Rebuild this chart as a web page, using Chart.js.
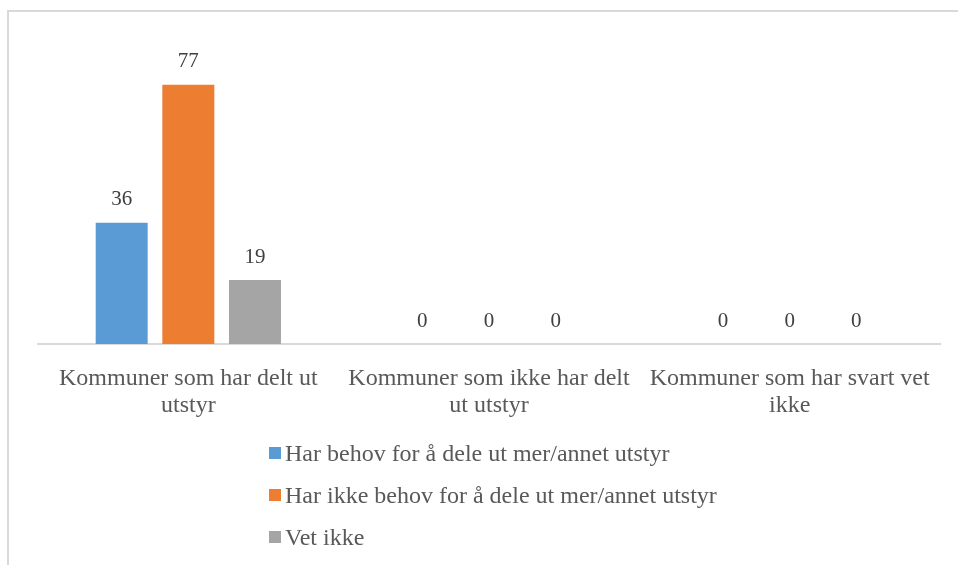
<!DOCTYPE html>
<html>
<head>
<meta charset="utf-8">
<script src="https://cdn.jsdelivr.net/npm/chart.js@4"></script>
<style>
  html, body { margin: 0; padding: 0; background: #fff; }
  #wrap { position: relative; width: 958px; height: 565px; overflow: hidden; }
  #frame { position: absolute; left: 7px; top: 10px; right: -5px; bottom: -5px;
           border-top: 2px solid #d9d9d9; border-left: 2px solid #d9d9d9; }
  #chartBox { position: absolute; left: 0; top: 0; width: 958px; height: 565px; }
  #legend { position: absolute; left: 269px; top: 432px; font-family: "Liberation Serif", "Times New Roman", serif;
            font-size: 24px; color: #595959; }
  .row { height: 42px; display: flex; align-items: center; white-space: nowrap; }
  .box { width: 12px; height: 12px; margin-right: 4px; }
</style>
</head>
<body>
<div id="wrap">
  <div id="frame"></div>
  <div id="chartBox"><canvas id="c"></canvas></div>
  <div id="legend"></div>
</div>
<script>
const categories = [
  ["Kommuner som har delt ut", "utstyr"],
  ["Kommuner som ikke har delt", "ut utstyr"],
  ["Kommuner som har svart vet", "ikke"]
];
const seriesNames = [
  "Har behov for å dele ut mer/annet utstyr",
  "Har ikke behov for å dele ut mer/annet utstyr",
  "Vet ikke"
];
const harBehov = [36, 0, 0];
const harIkkeBehov = [77, 0, 0];
const vetIkke = [19, 0, 0];
const colors = ["#5B9BD5", "#ED7D31", "#A5A5A5"];

const FONT = '"Liberation Serif", "Times New Roman", serif';

const valueLabels = {
  id: 'valueLabels',
  afterDatasetsDraw(chart) {
    const ctx = chart.ctx;
    ctx.save();
    ctx.font = '21px ' + FONT;
    ctx.fillStyle = '#404040';
    ctx.textAlign = 'center';
    ctx.textBaseline = 'middle';
    chart.data.datasets.forEach((ds, i) => {
      const meta = chart.getDatasetMeta(i);
      meta.data.forEach((el, j) => {
        ctx.fillText(String(ds.data[j]), el.x, el.y - 23);
      });
    });
    ctx.restore();
  }
};

const datasets = [harBehov, harIkkeBehov, vetIkke].map((d, i) => ({
  label: seriesNames[i],
  data: d,
  backgroundColor: colors[i],
  borderWidth: 0,
  categoryPercentage: 0.665,
  barPercentage: 0.78
}));

const chart = new Chart(document.getElementById('c'), {
  type: 'bar',
  data: { labels: categories, datasets },
  options: {
    responsive: true,
    maintainAspectRatio: false,
    animation: false,
    layout: { padding: { left: 38, right: 18, top: 41, bottom: 141 } },
    plugins: { legend: { display: false }, tooltip: { enabled: false } },
    scales: {
      x: {
        grid: { display: false, drawTicks: false },
        border: { display: true, color: '#d9d9d9', width: 2 },
        ticks: { color: '#595959', font: { family: FONT, size: 24, lineHeight: 1.12 }, padding: 21, maxRotation: 0, autoSkip: false },
        afterFit(scale) { scale.height = 80; }
      },
      y: { display: false, min: 0, max: 90 }
    }
  },
  plugins: [valueLabels]
});

const leg = document.getElementById('legend');
chart.data.datasets.forEach(ds => {
  const row = document.createElement('div');
  row.className = 'row';
  const b = document.createElement('span');
  b.className = 'box';
  b.style.background = ds.backgroundColor;
  const t = document.createElement('span');
  t.textContent = ds.label;
  row.appendChild(b); row.appendChild(t);
  leg.appendChild(row);
});
</script>
</body>
</html>
